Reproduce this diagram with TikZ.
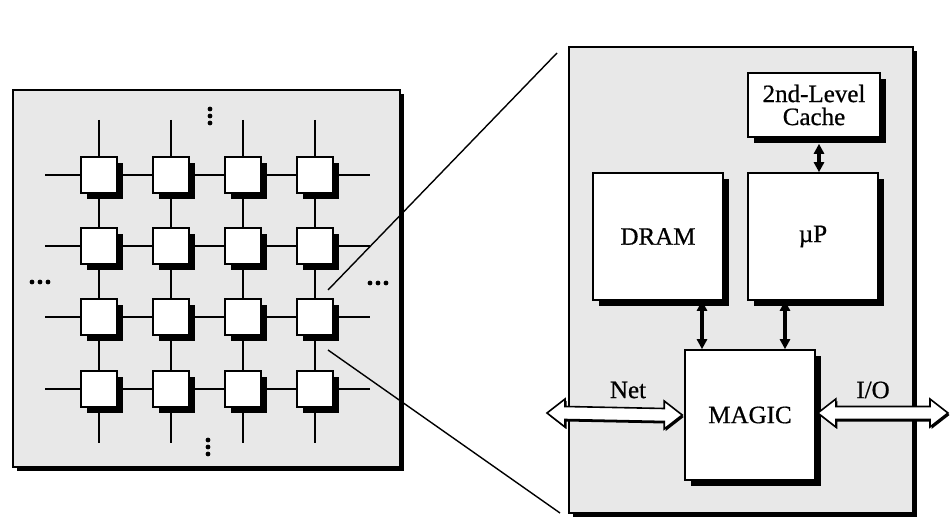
\documentclass[tikz,border=0pt]{standalone}
\usepackage{fontspec}
\setmainfont{Liberation Serif}
\newfontfamily\scanfont{Liberation Serif}[FakeBold=0.7]
\usetikzlibrary{shadows,arrows.meta,calc}
\pgfdeclarelayer{bg}
\pgfdeclarelayer{lines}
\pgfsetlayers{bg,lines,main}
\begin{document}
\begin{tikzpicture}[x=1pt,y=-1pt,
  panel/.style={draw=black, line width=1.5pt, fill=black!9, inner sep=0pt,
    drop shadow={shadow xshift=4pt, shadow yshift=-4pt, fill=black, opacity=1}},
  pe/.style={draw=black, line width=2pt, fill=white, minimum width=36pt, minimum height=36pt, inner sep=0pt,
    drop shadow={shadow xshift=6pt, shadow yshift=-6pt, fill=black, opacity=1}},
  blk/.style={draw=black, line width=1.6pt, fill=white, inner sep=0pt, font=\scanfont\fontsize{25}{23}\selectfont, align=center,
    drop shadow={shadow xshift=6pt, shadow yshift=-6pt, fill=black, opacity=1}},
  wire/.style={line width=2pt},
  zoomline/.style={line width=1.4pt},
  link/.style={line width=3.5pt, {Triangle[width=10pt,length=10pt]}-{Triangle[width=10pt,length=10pt]}},
  hollow/.style={draw=black, line width=1.6pt, fill=white, line join=miter,
    drop shadow={shadow xshift=1.5pt, shadow yshift=-2pt, fill=black, opacity=1}},
  lbl/.style={font=\scanfont\fontsize{25}{25}\selectfont, inner sep=0pt}
]
\useasboundingbox (0,0) rectangle (950,518);

% panels
\begin{pgfonlayer}{bg}
\node[panel, minimum width=387pt, minimum height=377pt] (leftpanel) at (206.5,278.5) {};
\node[panel, minimum width=344pt, minimum height=466pt] (rightpanel) at (741,280) {};
\end{pgfonlayer}

% grid of nodes
\foreach \r/\yy in {1/175,2/246,3/317,4/389}{
  \foreach \c/\xx in {1/99,2/171,3/243,4/315}{
    \node[pe] (n\r\c) at (\xx,\yy) {};
  }
}

% free line ends
\foreach \r/\yy in {1/175,2/246,3/317,4/389}{
  \coordinate (hl\r) at (45,\yy);
  \coordinate (hr\r) at (370,\yy);
}
\foreach \c/\xx in {1/99,2/171,3/243,4/315}{
  \coordinate (vt\c) at (\xx,120);
  \coordinate (vb\c) at (\xx,443);
}

\begin{pgfonlayer}{lines}
\foreach \r in {1,2,3,4}{
  \draw[wire] (hl\r) -- (n\r1) -- (n\r2) -- (n\r3) -- (n\r4) -- (hr\r);
}
\foreach \c in {1,2,3,4}{
  \draw[wire] (vt\c) -- (n1\c) -- (n2\c) -- (n3\c) -- (n4\c) -- (vb\c);
}
% ellipsis dots
\foreach \yy in {109,116,123} \fill (210,\yy) circle (2.4);
\foreach \yy in {440,447,454} \fill (208,\yy) circle (2.4);
\foreach \xx in {32,40,48} \fill (\xx,282) circle (2.4);
\foreach \xx in {370,378,386} \fill (\xx,283) circle (2.4);
% zoom lines
\coordinate (z1a) at (328,290);
\coordinate (z1b) at (557,53);
\coordinate (z2a) at (328,350);
\coordinate (z2b) at (560,513);
\draw[zoomline] (z1a) -- (z1b);
\draw[zoomline] (z2a) -- (z2b);
\end{pgfonlayer}

% node internals
\node[blk, minimum width=132pt, minimum height=64pt] (cache) at (814,105) {2nd-Level\\Cache};
\node[blk, minimum width=130pt, minimum height=127pt] (dram) at (658,236.5) {DRAM};
\node[blk, minimum width=130pt, minimum height=127pt] (up) at (813,236.5) {µP};
\node[blk, minimum width=130pt, minimum height=130pt] (magic) at (750,415) {MAGIC};

\coordinate (da) at (702,0);
\coordinate (ua) at (785,0);
\draw[link] (dram.south -| da) -- (magic.north -| da);
\draw[link] (up.south -| ua) -- (magic.north -| ua);
\draw[link] ($(cache.south)+(5,6)$) -- ($(up.north)+(6,0)$);

% hollow arrows
\coordinate (netl) at (547,413);
\coordinate (ior) at (948,413);
\coordinate (magicr) at ($(magic.east)+(2,-2)$);
\draw[hollow] (netl) -- ++(18,-14) -- ++(0,7.5) -- ($(magic.west)+(-20,-6.5)$) -- ++(0,-7.5)
  -- ($(magic.west)+(-2,0)$) -- ++(-18,14) -- ++(0,-7.5) -- ($(netl)+(18,6.5)$) -- ++(0,7.5) -- cycle;
\draw[hollow] (magicr) -- ++(18,-14) -- ++(0,7.5) -- ($(ior)+(-18,-6.5)$) -- ++(0,-7.5)
  -- (ior) -- ++(-18,14) -- ++(0,-7.5) -- ($(magicr)+(18,6.5)$) -- ++(0,7.5) -- cycle;

\node[lbl] (netlbl) at (628,390) {Net};
\node[lbl] (iolbl) at (873,390) {I/O};
\end{tikzpicture}
\end{document}
